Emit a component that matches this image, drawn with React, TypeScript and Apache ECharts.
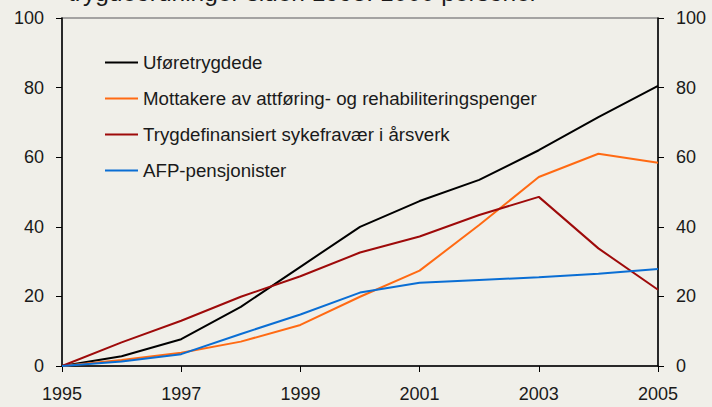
import React, { useEffect, useRef } from "react";
import * as echarts from "echarts";

const years = ["1995", "1996", "1997", "1998", "1999", "2000", "2001", "2002", "2003", "2004", "2005"];
const uforetrygdede = [0, 2.8, 7.7, 17.0, 28.5, 40.0, 47.4, 53.5, 62.0, 71.5, 80.5];
const attforing = [0, 1.7, 3.8, 7.0, 11.8, 19.9, 27.4, 40.5, 54.3, 61.0, 58.4];
const sykefravaer = [0, 6.8, 13.0, 19.9, 25.8, 32.6, 37.2, 43.4, 48.6, 33.8, 21.9];
const afp = [0, 1.3, 3.4, 9.2, 14.8, 21.1, 23.9, 24.7, 25.5, 26.5, 27.9];
const yTicks = [0, 20, 40, 60, 80, 100];
const titleText = "trygdeordninger siden 1995. 1000 personer";

export default function App() {
  const ref = useRef<HTMLDivElement>(null);
  useEffect(() => {
    if (!ref.current) return;
    const chart = echarts.init(ref.current, undefined, { renderer: "svg" });
    const font = "Liberation Sans, Arial, sans-serif";
    const mk = (name: string, data: number[], color: string) => ({
      name,
      type: "line",
      data,
      symbol: "none",
      lineStyle: { color, width: 2 },
      itemStyle: { color },
      yAxisIndex: 0,
    });
    const yAxisBase = (pos: "left" | "right") => ({
      type: "value",
      position: pos,
      min: 0,
      max: 100,
      interval: 20,
      axisLine: { show: true, lineStyle: { color: "#000", width: 1.5 } },
      axisTick: { show: true, inside: false, length: 6, lineStyle: { color: "#000" } },
      axisLabel: {
        margin: 18,
        fontSize: 18,
        color: "#1a1a1a",
        fontFamily: font,
        formatter: (v: number) => (yTicks.includes(v) ? String(v) : ""),
      },
      splitLine: { show: false },
    });
    chart.setOption({
      animation: false,
      backgroundColor: "#F0EFE9",
      grid: {
        left: 62,
        right: 54,
        top: 18,
        bottom: 41,
        show: true,
        borderColor: "#8a8a8a",
        borderWidth: 1.5,
        backgroundColor: "transparent",
      },
      graphic: [
        {
          type: "text",
          left: 68,
          top: -20,
          style: {
            text: titleText,
            fontSize: 24.5,
            fontFamily: font,
            fill: "#1a1a1a",
          },
        },
      ],
      legend: {
        orient: "vertical",
        left: 100,
        top: 48,
        itemWidth: 33,
        itemHeight: 14,
        itemGap: 17,
        icon: "path://M0,6 L33,6 L33,8 L0,8 Z",
        textStyle: { fontSize: 18.7, color: "#1a1a1a", fontFamily: font },
        data: [
          "Uføretrygdede",
          "Mottakere av attføring- og rehabiliteringspenger",
          "Trygdefinansiert sykefravær i årsverk",
          "AFP-pensjonister",
        ],
      },
      xAxis: {
        type: "category",
        data: years,
        boundaryGap: false,
        axisLine: { show: true, lineStyle: { color: "#000", width: 1.5 } },
        axisTick: { show: true, interval: 1, length: 6, lineStyle: { color: "#000" } },
        axisLabel: { interval: 1, fontSize: 18, color: "#1a1a1a", fontFamily: font, margin: 19 },
      },
      yAxis: [yAxisBase("left"), yAxisBase("right")],
      series: [
        mk("Uføretrygdede", uforetrygdede, "#000000"),
        mk("Mottakere av attføring- og rehabiliteringspenger", attforing, "#FF6A13"),
        mk("Trygdefinansiert sykefravær i årsverk", sykefravaer, "#9E0A0A"),
        mk("AFP-pensjonister", afp, "#0A6ED4"),
      ],
    });
    return () => chart.dispose();
  }, []);
  return <div ref={ref} style={{ width: 712, height: 407, position: "absolute", left: 0, top: 0 }} />;
}
